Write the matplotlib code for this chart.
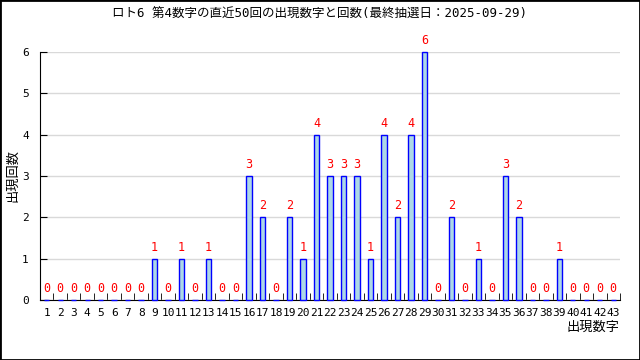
import matplotlib
matplotlib.use("Agg")
import matplotlib.pyplot as plt
from matplotlib.patches import Rectangle

plt.rcParams['font.family'] = ['DejaVu Sans Mono', 'Noto Sans CJK JP']

numbers = list(range(1, 44))
counts = [0, 0, 0, 0, 0, 0, 0, 0, 1, 0,
          1, 0, 1, 0, 0, 3, 2, 0, 2, 1,
          4, 3, 3, 3, 1, 4, 2, 4, 6, 0,
          2, 0, 1, 0, 3, 2, 0, 0, 1, 0,
          0, 0, 0]
title = "ロト6 第4数字の直近50回の出現数字と回数(最終抽選日：2025-09-29)"
xlabel = "出現数字"
ylabel = "出現回数"

fig = plt.figure(figsize=(6.4, 3.6), dpi=100)
ax = fig.add_axes([40/640, 1 - 300/360, 580/640, 248/360])

ax.bar(numbers, counts, width=0.4, color='#add8e6', edgecolor='blue', linewidth=1.0, zorder=3, clip_on=False)
for n, c in zip(numbers, counts):
    ax.text(n, c + 0.12, str(c), color='red', ha='center', va='bottom', fontsize=8.5, zorder=4)

ax.set_xlim(0.5, 43.5)
ax.set_ylim(0, 6)
ax.set_yticks(range(0, 7))
ax.yaxis.grid(True, color='#d9d9d9', linewidth=1, zorder=0)
ax.tick_params(axis='y', direction='in', length=5, labelsize=8, pad=8)

ax.set_xticks(numbers)
ax.set_xticklabels([str(n) for n in numbers], fontsize=8)
ax.tick_params(axis='x', which='major', length=0, pad=6)
ax.set_xticks([n + 0.5 for n in numbers], minor=True)
ax.tick_params(axis='x', which='minor', direction='in', length=5)

for s in ['top', 'right']:
    ax.spines[s].set_visible(False)

ax.set_ylabel(ylabel, fontsize=9.5)
ax.yaxis.set_label_coords(-21/580, 0.5)
ax.text(1.0, -0.085, xlabel, transform=ax.transAxes, ha='right', va='top', fontsize=9.5)

fig.text(0.5, 1 - 14/360, title, fontsize=9, ha='center', va='center')

fig.patches.append(Rectangle((0, 0), 1, 1, transform=fig.transFigure, fill=False,
                             edgecolor='black', linewidth=2))

fig.savefig("out.png", dpi=100)
